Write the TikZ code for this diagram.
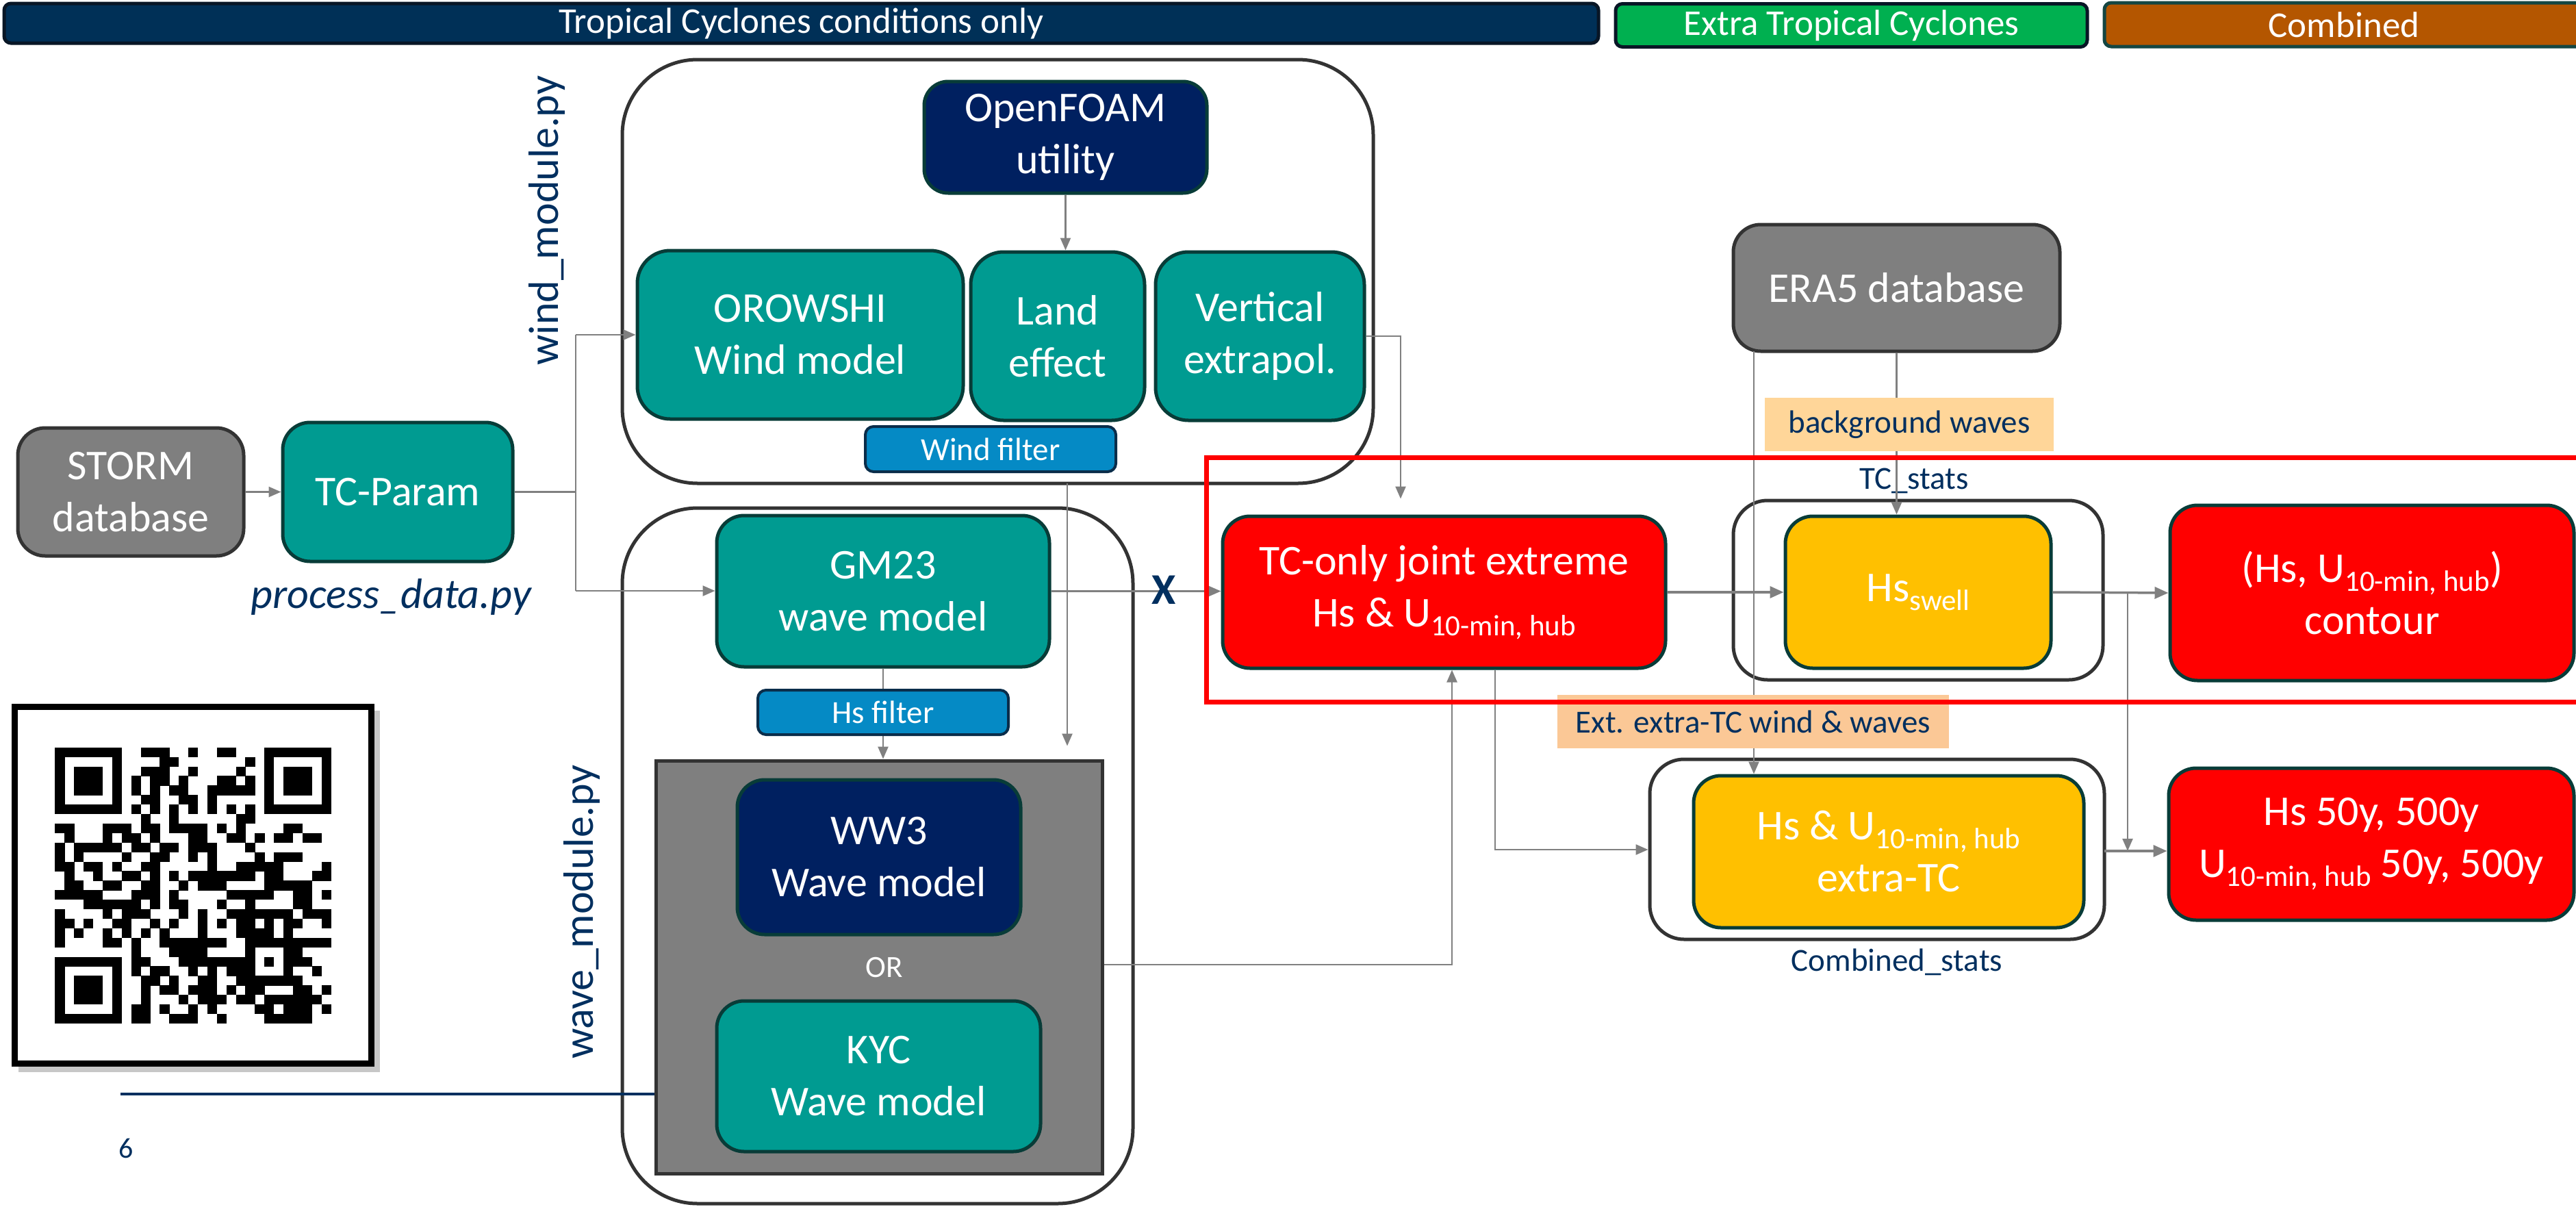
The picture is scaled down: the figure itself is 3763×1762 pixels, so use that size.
\documentclass[tikz,border=0pt]{standalone}
\usepackage{fontspec}
\setmainfont{Carlito}
\usetikzlibrary{arrows.meta}
\definecolor{tealc}{RGB}{0,155,145}
\definecolor{edgec}{RGB}{8,60,56}
\definecolor{navybox}{RGB}{0,32,96}
\definecolor{grayc}{RGB}{127,127,127}
\definecolor{darkline}{RGB}{51,51,51}
\definecolor{redc}{RGB}{255,0,0}
\definecolor{yel}{RGB}{255,192,0}
\definecolor{bluef}{RGB}{5,138,197}
\definecolor{bluefedge}{RGB}{10,45,74}
\definecolor{bannav}{RGB}{0,48,87}
\definecolor{banedge}{RGB}{8,22,38}
\definecolor{bangreen}{RGB}{0,176,80}
\definecolor{banor}{RGB}{180,86,0}
\definecolor{banoredge}{RGB}{20,70,66}
\definecolor{txtnavy}{RGB}{0,47,95}
\definecolor{arrowc}{RGB}{128,128,128}
\definecolor{peachA}{RGB}{255,214,153}
\definecolor{peachB}{RGB}{251,200,150}
\newcommand\mainfs{\fontsize{62}{76}\selectfont}
\newcommand\lblfs{\fontsize{47}{56}\selectfont}
\newcommand\banfs{\fontsize{53}{60}\selectfont}
\newcommand\subtxt[1]{\raisebox{-13pt}{\fontsize{43}{43}\selectfont #1}}
\newcommand\qrrowdraw[2]{\edef\qrr{#1}\def\qrc{0}\expandafter\qrscan#2\relax}
\def\qrscan#1{\ifx\relax#1\else\if1#1\fill[black] (\qrc*13.9+80.4,\qrr*13.9+1091.7) rectangle ++(14.2,14.2);\fi\pgfmathtruncatemacro\qrc{\qrc+1}\expandafter\qrscan\fi}
\begin{document}
\begin{tikzpicture}[x=1pt,y=-1pt,
  box/.style={draw=edgec, line width=5pt, rounded corners=40pt, text=white, align=center, inner sep=0pt, font=\mainfs},
  tealbox/.style={box, fill=tealc},
  navybx/.style={box, fill=navybox},
  graybx/.style={box, fill=grayc, draw=darkline},
  redbx/.style={box, fill=redc},
  yelbx/.style={box, fill=yel},
  filterbx/.style={draw=bluefedge, line width=4pt, fill=bluef, rounded corners=12pt, text=white, font=\lblfs, inner sep=0pt},
  container/.style={draw=darkline, line width=5pt, inner sep=0pt},
  banner/.style={line width=5pt, rounded corners=10pt, text=white, font=\banfs, inner sep=0pt},
  lbl/.style={text=txtnavy, font=\lblfs, inner sep=0pt},
  tag/.style={text=txtnavy, font=\lblfs, inner sep=0pt},
  conn/.style={draw=arrowc, line width=2.5pt},
  arr/.style={conn, -{Triangle[length=18pt,width=15pt]}},
  arrthick/.style={draw=arrowc, line width=3.5pt, -{Triangle[length=20pt,width=17pt]}}
]
\useasboundingbox (0,0) rectangle (3763,1762);
\fill[white] (0,0) rectangle (3763,1762);

% banners
\node[banner, fill=bannav, draw=banedge, minimum width=2329, minimum height=58] (ban1) at (1170.5,34) {Tropical Cyclones conditions only};
\node[banner, fill=bangreen, draw=banedge, minimum width=689, minimum height=63] (ban2) at (2704.5,37) {Extra Tropical Cyclones};
\node[banner, fill=banor, draw=banoredge, minimum width=700, minimum height=64] (ban3) at (3424,36) {Combined};

% QR code
\fill[black!22] (27,1038) rectangle (555,1566);
\node[draw=black, line width=8.5pt, fill=white, minimum width=521, minimum height=521, inner sep=0pt] (qrframe) at (281.8,1292.8) {};
\foreach \r/\s in {0/11111110011100100110001111111,
1/10000010000110000000101000001,
2/10111010011100100001001011101,
3/10111010101101000110101011101,
4/10111010101011001111101011101,
5/10000010011001101000001000001,
6/11111110101010101010101111111,
7/00000000010010000001100000000,
8/11000111011011110101000011000,
9/01000101101000110011010110110,
10/10111110110110111000100000000,
11/10100001001100101000010111000,
12/11011010011000001001111100001,
13/01001001101010111111101100011,
14/01100110011001011100001111100,
15/11111000111010000011111001101,
16/00011111101011000100100001100,
17/10000101110001010011111110111,
18/11010011001010010101101011001,
19/10100101010100010001111010000,
20/10000110100111111100111111111,
21/00000000100011110000100011000,
22/11111110110001111111101011100,
23/10000010101100101011100010010,
24/10111010011010011001111111000,
25/10111010010110111010110001101,
26/10111010010001011101101111110,
27/10000010110100101000011011101,
28/11111110110011100100001111100}{\qrrowdraw{\r}{\s}}

% footer
\node[text=txtnavy, font=\fontsize{42}{48}\selectfont, anchor=base, inner sep=0pt] (pagenum) at (184,1691) {6};

% left part
\node[graybx, minimum width=330, minimum height=187] (storm) at (191,718.5) {STORM\\database};
\node[tealbox, minimum width=336, minimum height=203] (tcparam) at (581,718.5) {TC-Param};
\node[text=txtnavy, font=\mainfs\itshape, anchor=base, inner sep=0pt] (pdlbl) at (571,888) {process\_data.py};

% containers
\node[container, rounded corners=110pt, minimum width=1097, minimum height=619] (windc) at (1457.5,396.5) {};
\node[container, rounded corners=110pt, minimum width=746, minimum height=1016] (wavec) at (1282,1250) {};
\node[text=txtnavy, font=\mainfs, rotate=90, inner sep=0pt] (windlbl) at (799,322) {wind\_module.py};
\node[text=txtnavy, font=\mainfs, rotate=90, inner sep=0pt] (wavelbl) at (850,1332) {wave\_module.py};

% wind module
\node[navybx, rounded corners=35pt, minimum width=413, minimum height=163] (openfoam) at (1556.5,200.5) {OpenFOAM\\utility};
\node[tealbox, rounded corners=48pt, minimum width=476, minimum height=246] (orowshi) at (1169,489) {OROWSHI\\Wind model};
\node[tealbox, rounded corners=48pt, minimum width=254, minimum height=246] (land) at (1545,491) {Land\\effect};
\node[tealbox, rounded corners=48pt, minimum width=305, minimum height=246] (vert) at (1840.5,491) {Vertical\\extrapol.};
\node[filterbx, minimum width=366, minimum height=66] (wfilter) at (1447,656) {Wind filter};

% wave module
\node[tealbox, minimum width=486, minimum height=221] (gm23) at (1290,863.5) {GM23\\wave model};
\node[draw=darkline, line width=5pt, fill=grayc, minimum width=652, minimum height=603, inner sep=0pt] (graybox) at (1284,1412.5) {};
\node[navybx, minimum width=414, minimum height=226] (ww3) at (1284,1252) {WW3\\Wave model};
\node[text=white, font=\fontsize{45}{50}\selectfont, inner sep=0pt] (orlbl) at (1292,1413) {OR};
\node[tealbox, minimum width=473, minimum height=220] (kyc) at (1283.5,1572) {KYC\\Wave model};
\coordinate (f0) at (176,1598);
\draw[txtnavy, line width=4pt] (f0) -- (f0 -| graybox.west);

% right part
\node[redbx, minimum width=647, minimum height=222] (tconly) at (2109.5,865) {TC-only joint extreme\\Hs \& U\subtxt{10-min, hub}};
\node[graybx, minimum width=477, minimum height=185] (era5) at (2770.5,420.5) {ERA5 database};
\node[container, rounded corners=50pt, minimum width=540, minimum height=262] (tcstatsc) at (2802,862) {};
\node[yelbx, minimum width=388, minimum height=222] (swell) at (2802,865) {Hs\subtxt{swell}};
\node[redbx, minimum width=590, minimum height=256] (contour) at (3465,866) {(Hs, U\subtxt{10-min, hub})\\contour};
\node[container, rounded corners=50pt, minimum width=664, minimum height=263] (combc) at (2742,1240.5) {};
\node[yelbx, minimum width=570, minimum height=222] (hsu) at (2759,1244) {Hs \& U\subtxt{10-min, hub}\\extra-TC};
\node[redbx, minimum width=592, minimum height=222] (fifty) at (3464,1233) {Hs 50y, 500y\\U\subtxt{10-min, hub} 50y, 500y};
\node[tag, anchor=base] (tcstatslbl) at (2796,714) {TC\_stats};
\node[tag, anchor=base] (comblbl) at (2771,1418) {Combined\_stats};

% connectors
\draw[arr] (storm.east) -- (tcparam.west);
\coordinate (br1) at (841,489);
\coordinate (br2) at (841,863);
\draw[conn] (tcparam.east) -- (tcparam.east -| br1);
\draw[conn] (br1) -- (br2);
\draw[arr] (br1) -- (br1 -| orowshi.west);
\draw[arr] (br2) -- (br2 -| gm23.west);
\draw[arr] (openfoam.south) -- (openfoam.south |- land.north);
\coordinate (v1) at (2046,491);
\draw[arr, shorten >=23pt] (vert.east) -- (v1) -- (v1 |- tconly.north);
\coordinate (w1) at (1559,706);
\draw[arr, shorten >=19pt] (w1) -- (w1 |- graybox.north);
\draw[arr] (gm23.south) -- (gm23.south |- graybox.north);
\node[filterbx, minimum width=366, minimum height=65] (hsfilter) at (1290,1040.5) {Hs filter};
\draw[arr] (gm23.east) -- (gm23.east -| tconly.west);
\node[text=txtnavy, font=\fontsize{64}{70}\selectfont\bfseries, inner sep=0pt] (xlbl) at (1700,862) {X};
\coordinate (g1) at (2121,1409);
\draw[arr] (graybox.east |- g1) -- (g1) -- (g1 |- tconly.south);
\draw[arrthick] (tconly.east) -- (swell.west);
\draw[arrthick] (swell.east) -- (contour.west);
\coordinate (t1) at (2184,1241);
\draw[arr] (tconly.south -| t1) -- (t1) -- (t1 -| combc.west);
\coordinate (c1) at (3074,1243);
\draw[arrthick] (c1) -- (c1 -| fifty.west);
\coordinate (b3) at (3108,866);
\draw[arr] (b3) -- (b3 |- c1);
\coordinate (e1) at (2562,513);
\draw[arr] (e1) -- (e1 |- hsu.north);
\draw[arr] (era5.south) -- (era5.south |- swell.north);
\node[tag, fill=peachA, minimum width=422, minimum height=78] (bgw) at (2789,620) {background waves};
\node[tag, fill=peachB, minimum width=572, minimum height=78] (extlbl) at (2561,1054) {Ext. extra-TC wind \& waves};

% highlight frame
\node[draw=redc, line width=7pt, minimum width=2038, minimum height=357, inner sep=0pt] (redframe) at (2781,846.5) {};
\end{tikzpicture}
\end{document}
